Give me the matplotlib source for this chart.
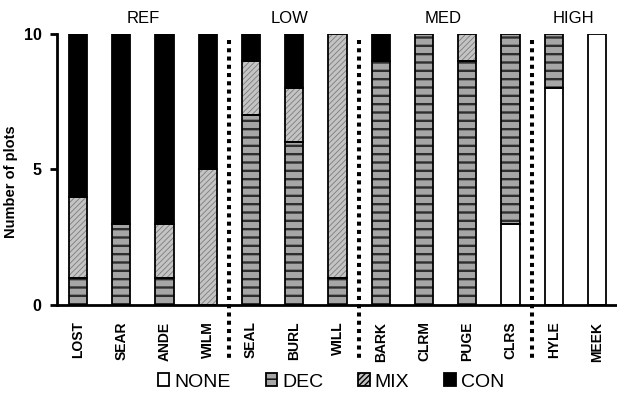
import numpy as np
import matplotlib
matplotlib.use("Agg")
import matplotlib.pyplot as plt
from matplotlib.patches import Patch

plt.rcParams["font.family"] = ["Liberation Sans", "DejaVu Sans"]

sites = ["LOST", "SEAR", "ANDE", "WILM", "SEAL", "BURL", "WILL",
         "BARK", "CLRM", "PUGE", "CLRS", "HYLE", "MEEK"]
none_v = [0, 0, 0, 0, 0, 0, 0, 0, 0, 0, 3, 8, 10]
dec_v = [1, 3, 1, 0, 7, 6, 1, 9, 10, 9, 7, 2, 0]
mix_v = [3, 0, 2, 5, 2, 2, 9, 0, 0, 1, 0, 0, 0]
con_v = [6, 7, 7, 5, 1, 2, 0, 1, 0, 0, 0, 0, 0]

groups = ["REF", "LOW", "MED", "HIGH"]
group_mid = [1.5, 4.9, 8.45, 11.45]
dividers = [3.5, 6.5, 10.5]

# face, hatch, hatch colour, hatch width
styles = {
    "NONE": ("white", None, "black", 1.0),
    "DEC": ("#a6a6a6", "--", "#2e2e2e", 1.7),
    "MIX": ("#c4c4c4", "//////", "#7c7c7c", 0.6),
    "CON": ("black", None, "black", 1.0),
}


def draw_segment(ax, x, h, bottom, name, w=0.42):
    face, hatch, hcol, hlw = styles[name]
    bars = ax.bar(x, h, w, bottom=bottom, color=face, hatch=hatch,
                  edgecolor=hcol, linewidth=0, zorder=2)
    for b in bars:
        if hasattr(b, "set_hatch_linewidth"):
            b.set_hatch_linewidth(hlw)
    ax.bar(x, h, w, bottom=bottom, fill=False, edgecolor="black",
           linewidth=1.3, zorder=3)


fig = plt.figure(figsize=(6.17, 3.94), dpi=100)
ax = fig.add_axes([0.092, 0.226, 0.908, 0.688])

x = np.arange(len(sites))
bottom = np.zeros(len(sites))
for name, vals in [("NONE", none_v), ("DEC", dec_v), ("MIX", mix_v), ("CON", con_v)]:
    vals = np.array(vals, dtype=float)
    m = vals > 0
    draw_segment(ax, x[m], vals[m], bottom[m], name)
    bottom += vals

# dotted separators between site groups
for d in dividers:
    ax.plot([d, d], [9.78, -2.0], color="black", lw=2.9,
            linestyle=(0, (1, 1.05)), dash_capstyle="butt",
            clip_on=False, zorder=4)

for g, gx in zip(groups, group_mid):
    ax.text(gx, 10.55, g, ha="center", va="center", fontsize=12)

ax.set_xlim(-0.49, 12.46)
ax.set_ylim(0, 10)
ax.set_yticks([0, 5, 10])
ax.set_xticks(x)
ax.set_xticklabels(sites, rotation=90, fontsize=10, fontweight="bold")
for lab in ax.get_yticklabels():
    lab.set_fontweight("bold")
ax.tick_params(axis="y", direction="out", length=5, width=2, labelsize=11.5, pad=6)
ax.tick_params(axis="x", length=0, pad=12)
ax.spines["top"].set_visible(False)
ax.spines["right"].set_visible(False)
ax.spines["left"].set_linewidth(2)
ax.spines["bottom"].set_linewidth(2)
ax.set_ylabel("Number of plots", fontsize=10.5, fontweight="bold")
ax.yaxis.set_label_coords(-0.07, 0.455)

handles = []
for name in ["NONE", "DEC", "MIX", "CON"]:
    face, hatch, hcol, hlw = styles[name]
    handles.append(Patch(facecolor=face, hatch=hatch, edgecolor="black",
                         linewidth=1.3, label=name))
fig.legend(handles=handles, loc="center", bbox_to_anchor=(331 / 617, 1 - 382 / 394),
           ncol=4, frameon=False, fontsize=14, handlelength=0.6, handleheight=0.6,
           handletextpad=0.25, columnspacing=1.8, borderpad=0)

fig.savefig("out.png", dpi=100)
